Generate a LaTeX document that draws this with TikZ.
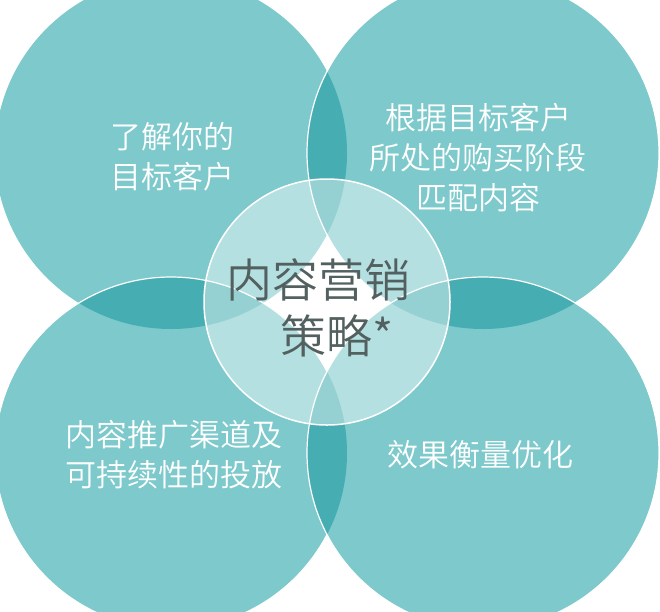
\documentclass[tikz,border=0pt]{standalone}
\usepackage{fontspec}
\newfontfamily\cjk{Noto Sans CJK SC}[UprightFont={* DemiLight}]
\definecolor{tealA}{HTML}{7DC9CB}
\definecolor{tealB}{HTML}{46AEB3}
\definecolor{ctext}{HTML}{52605F}
\begin{document}
\begin{tikzpicture}[x=1pt,y=-1pt,
  wline/.style={draw=white,line width=1.2pt},
  lbl/.style={text=white,font=\cjk\fontsize{31}{40}\selectfont,align=center,inner sep=0pt},
  clbl/.style={text=ctext,font=\cjk\fontsize{46}{56}\selectfont,inner sep=0pt}]
\useasboundingbox (0,0) rectangle (660,611);
\clip (0,0) rectangle (660,611);
\coordinate (tl) at (171,153);
\coordinate (tr) at (483,153);
\coordinate (bl) at (171,453);
\coordinate (br) at (483,453);
\coordinate (cc) at (327,302);
% top left
\fill[tealA] (tl) circle (176pt);
% top right
\fill[tealA] (tr) circle (176pt);
\begin{scope}
  \clip (tr) circle (176pt);
  \fill[tealB] (tl) circle (176pt);
\end{scope}
\draw[wline] (tr) circle (176pt);
% bottom left
\fill[tealA] (bl) circle (176pt);
\begin{scope}
  \clip (bl) circle (176pt);
  \fill[tealB] (tl) circle (176pt);
\end{scope}
\draw[wline] (bl) circle (176pt);
% bottom right
\fill[tealA] (br) circle (176pt);
\begin{scope}
  \clip (br) circle (176pt);
  \fill[tealB] (tr) circle (176pt);
  \fill[tealB] (bl) circle (176pt);
\end{scope}
\draw[wline] (br) circle (176pt);
% centre circle
\fill[white,fill opacity=0.43] (cc) circle (123pt);
\draw[white,line width=1.5pt] (cc) circle (123pt);
% texts
\node[lbl] (t1) at (172,157) {了解你的\\目标客户};
\node[lbl] (t2) at (478,158) {根据目标客户\\所处的购买阶段\\匹配内容};
\node[lbl] (t3) at (174,455) {内容推广渠道及\\可持续性的投放};
\node[lbl] (t4) at (480,455) {效果衡量优化};
\node[clbl] (c1) at (318,280) {内容营销};
\node[clbl,anchor=west] (c2) at (280,336) {策略*};
\end{tikzpicture}
\end{document}
